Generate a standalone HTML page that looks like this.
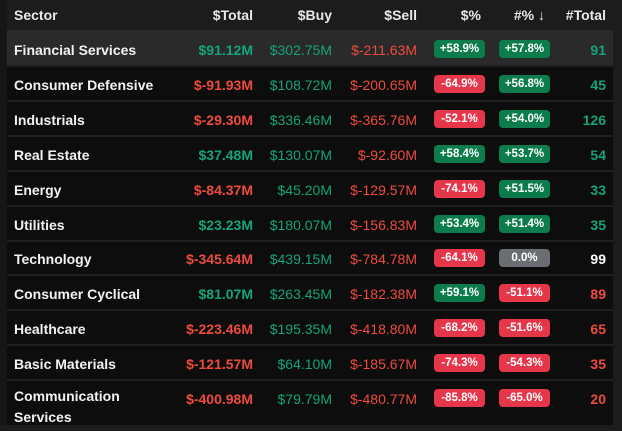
<!DOCTYPE html><html><head><style>
*{margin:0;padding:0;box-sizing:border-box}
body{width:622px;height:425px;overflow:hidden;background:#1c1c1c;font-family:"Liberation Sans",sans-serif;position:relative}
#l{position:absolute;left:0;top:0;width:7px;height:425px;background:#161616}
#t{position:absolute;left:7px;top:0;width:606px;height:425px;background:#0d0d0d}
.hd{position:absolute;left:0;top:0;width:606px;height:32px;background:#1c1c1c;border-bottom:2px solid #2a2a2a}
.r{position:absolute;left:0;width:606px;height:35px;border-bottom:2px solid #1f1f1f}
.c{position:absolute;top:0;line-height:36px;font-size:14px;white-space:nowrap}
.h{color:#e8e8e8;font-weight:bold;font-size:14px;line-height:31px}
.n{left:7px;color:#f2f2f2;font-weight:bold}
.tot{right:360px;font-weight:bold;text-align:right}
.buy{right:281px}
.sell{right:196px}
.b1,.b2{position:absolute;top:8px;height:18px;border-radius:4px;color:#fff;font-weight:bold;font-size:11.5px;line-height:18px;text-align:center;width:51px}
.b1{left:427px}.b2{left:492px}
.cnt{right:7px;font-weight:bold}
.g{color:#14a37a}.rd{color:#ee4b3f}.w{color:#fff}
.bg{background:#0c7c4d}.br{background:#e5364a}.bz{background:#6a6e73}
</style></head><body><div id="l"></div><div id="t">
<div class="hd">
<div class="c h" style="left:7px">Sector</div>
<div class="c h" style="right:360px">$Total</div>
<div class="c h" style="right:281px">$Buy</div>
<div class="c h" style="right:196px">$Sell</div>
<div class="c h" style="right:132px">$%</div>
<div class="c h" style="right:68px">#% ↓</div>
<div class="c h" style="right:7px">#Total</div>
</div>
<div class="r" style="top:32px;background:#2a2a2a"><div class="c n">Financial Services</div><div class="c tot g">$91.12M</div><div class="c buy g">$302.75M</div><div class="c sell rd">$-211.63M</div><div class="b1 bg">+58.9%</div><div class="b2 bg">+57.8%</div><div class="c cnt g">91</div></div>
<div class="r" style="top:67px"><div class="c n">Consumer Defensive</div><div class="c tot rd">$-91.93M</div><div class="c buy g">$108.72M</div><div class="c sell rd">$-200.65M</div><div class="b1 br">-64.9%</div><div class="b2 bg">+56.8%</div><div class="c cnt g">45</div></div>
<div class="r" style="top:102px"><div class="c n">Industrials</div><div class="c tot rd">$-29.30M</div><div class="c buy g">$336.46M</div><div class="c sell rd">$-365.76M</div><div class="b1 br">-52.1%</div><div class="b2 bg">+54.0%</div><div class="c cnt g">126</div></div>
<div class="r" style="top:137px"><div class="c n">Real Estate</div><div class="c tot g">$37.48M</div><div class="c buy g">$130.07M</div><div class="c sell rd">$-92.60M</div><div class="b1 bg">+58.4%</div><div class="b2 bg">+53.7%</div><div class="c cnt g">54</div></div>
<div class="r" style="top:172px"><div class="c n">Energy</div><div class="c tot rd">$-84.37M</div><div class="c buy g">$45.20M</div><div class="c sell rd">$-129.57M</div><div class="b1 br">-74.1%</div><div class="b2 bg">+51.5%</div><div class="c cnt g">33</div></div>
<div class="r" style="top:207px"><div class="c n">Utilities</div><div class="c tot g">$23.23M</div><div class="c buy g">$180.07M</div><div class="c sell rd">$-156.83M</div><div class="b1 bg">+53.4%</div><div class="b2 bg">+51.4%</div><div class="c cnt g">35</div></div>
<div class="r" style="top:241px"><div class="c n">Technology</div><div class="c tot rd">$-345.64M</div><div class="c buy g">$439.15M</div><div class="c sell rd">$-784.78M</div><div class="b1 br">-64.1%</div><div class="b2 bz">0.0%</div><div class="c cnt w">99</div></div>
<div class="r" style="top:276px"><div class="c n">Consumer Cyclical</div><div class="c tot g">$81.07M</div><div class="c buy g">$263.45M</div><div class="c sell rd">$-182.38M</div><div class="b1 bg">+59.1%</div><div class="b2 br">-51.1%</div><div class="c cnt rd">89</div></div>
<div class="r" style="top:311px"><div class="c n">Healthcare</div><div class="c tot rd">$-223.46M</div><div class="c buy g">$195.35M</div><div class="c sell rd">$-418.80M</div><div class="b1 br">-68.2%</div><div class="b2 br">-51.6%</div><div class="c cnt rd">65</div></div>
<div class="r" style="top:346px"><div class="c n">Basic Materials</div><div class="c tot rd">$-121.57M</div><div class="c buy g">$64.10M</div><div class="c sell rd">$-185.67M</div><div class="b1 br">-74.3%</div><div class="b2 br">-54.3%</div><div class="c cnt rd">35</div></div>
<div class="r" style="top:381px;height:50px;border:none"><div class="c n" style="line-height:21px;top:5px">Communication<br>Services</div><div class="c tot rd">$-400.98M</div><div class="c buy g">$79.79M</div><div class="c sell rd">$-480.77M</div><div class="b1 br">-85.8%</div><div class="b2 br">-65.0%</div><div class="c cnt rd">20</div></div>
</div></body></html>
